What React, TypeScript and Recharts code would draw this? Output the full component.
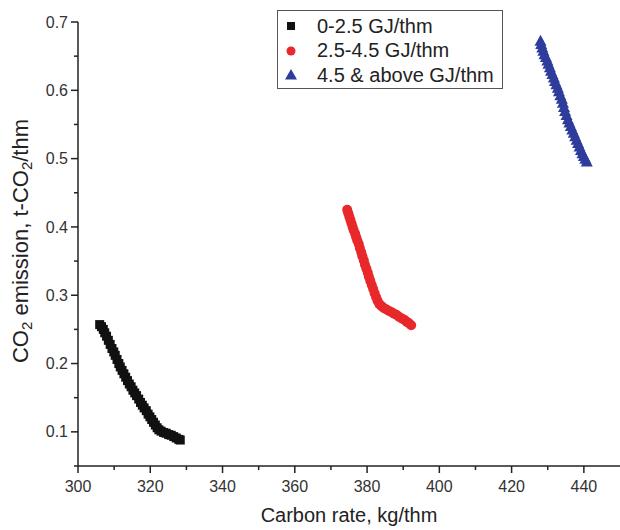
import React from "react";
import { ScatterChart, Scatter, XAxis, YAxis, Legend } from "recharts";

// carbon rate (kg/thm), CO2 emission (t-CO2/thm)
const lowEnergy: [number, number][] = [
  [306.0, 0.257], [306.5, 0.254], [307.0, 0.25], [307.4, 0.245], [307.9, 0.24],
  [308.4, 0.234], [308.9, 0.228], [309.4, 0.222], [309.9, 0.217], [310.3, 0.212],
  [310.8, 0.206], [311.3, 0.2], [311.7, 0.195], [312.2, 0.19], [312.7, 0.185],
  [313.2, 0.18], [313.7, 0.175], [314.2, 0.17], [314.7, 0.166], [315.2, 0.161],
  [315.7, 0.157], [316.2, 0.153], [316.8, 0.148], [317.3, 0.143], [317.8, 0.139],
  [318.3, 0.135], [318.9, 0.131], [319.4, 0.126], [319.9, 0.122], [320.4, 0.118],
  [320.9, 0.114], [321.4, 0.11], [321.9, 0.106], [322.4, 0.103], [323.0, 0.101],
  [323.7, 0.099], [324.4, 0.098], [325.1, 0.096], [325.8, 0.095], [326.5, 0.093],
  [327.2, 0.091], [327.9, 0.089], [328.3, 0.088],
];

const midEnergy: [number, number][] = [
  [374.5, 0.425], [374.8, 0.42], [375.1, 0.415], [375.4, 0.41], [375.7, 0.405],
  [376.0, 0.4], [376.3, 0.395], [376.7, 0.39], [377.0, 0.385], [377.3, 0.38],
  [377.7, 0.375], [378.0, 0.369], [378.4, 0.363], [378.7, 0.357], [379.1, 0.351],
  [379.4, 0.345], [379.8, 0.339], [380.2, 0.333], [380.5, 0.327], [380.9, 0.321],
  [381.3, 0.315], [381.7, 0.309], [382.1, 0.303], [382.5, 0.297], [382.9, 0.292],
  [383.4, 0.287], [384.0, 0.284], [384.7, 0.281], [385.4, 0.279], [386.1, 0.277],
  [386.8, 0.275], [387.5, 0.273], [388.2, 0.271], [388.9, 0.268], [389.6, 0.266],
  [390.3, 0.264], [391.0, 0.261], [391.6, 0.259], [392.2, 0.256],
];

const highEnergy: [number, number][] = [
  [428.0, 0.672], [428.2, 0.667], [428.5, 0.662], [428.8, 0.657], [429.1, 0.652],
  [429.5, 0.648], [429.9, 0.643], [430.2, 0.638], [430.6, 0.633], [430.9, 0.628],
  [431.3, 0.623], [431.7, 0.618], [432.0, 0.613], [432.4, 0.608], [432.8, 0.603],
  [433.1, 0.598], [433.5, 0.592], [433.9, 0.587], [434.2, 0.581], [434.5, 0.575],
  [434.8, 0.569], [435.2, 0.563], [435.6, 0.557], [436.0, 0.552], [436.4, 0.547],
  [436.8, 0.542], [437.2, 0.537], [437.6, 0.532], [438.0, 0.527], [438.4, 0.522],
  [438.8, 0.517], [439.2, 0.512], [439.6, 0.507], [440.0, 0.503], [440.4, 0.499],
  [440.8, 0.495],
];

const seriesNames = ["0-2.5 GJ/thm", "2.5-4.5 GJ/thm", "4.5 & above GJ/thm"];
const xTicks = [300, 310, 320, 330, 340, 350, 360, 370, 380, 390, 400, 410, 420, 430, 440];
const yTicks = [0.05, 0.1, 0.15, 0.2, 0.25, 0.3, 0.35, 0.4, 0.45, 0.5, 0.55, 0.6, 0.65, 0.7];

const FONT = "'Liberation Sans', Arial, sans-serif";
const AXIS = "#222";
const BLACK = "#111";
const RED = "#e8282b";
const BLUE = "#2e3d9c";

const toPoints = (arr: [number, number][]) => arr.map(([x, y]) => ({ x, y }));

function XTick(props: any) {
  const { x, y, payload } = props;
  const v = payload.value;
  const major = v % 20 === 0;
  return (
    <g>
      <line x1={x} x2={x} y1={y} y2={y + (major ? 7 : 4)} stroke={AXIS} strokeWidth={1.5} />
      {major && (
        <text x={x} y={y + 26} textAnchor="middle" fontSize={16} fill="#333" fontFamily={FONT}>
          {v}
        </text>
      )}
    </g>
  );
}

function YTick(props: any) {
  const { x, y, payload } = props;
  const v = payload.value;
  const major = Math.round(v * 100) % 10 === 0;
  return (
    <g>
      <line x1={x} x2={x - (major ? 7 : 4)} y1={y} y2={y} stroke={AXIS} strokeWidth={1.5} />
      {major && (
        <text x={x - 10} y={y} dy="0.35em" textAnchor="end" fontSize={16} fill="#333" fontFamily={FONT}>
          {v.toFixed(1)}
        </text>
      )}
    </g>
  );
}

const Square = (p: any) => (
  <rect x={p.cx - 4.5} y={p.cy - 4.5} width={9} height={9} fill={BLACK} />
);
const Dot = (p: any) => <circle cx={p.cx} cy={p.cy} r={5} fill={RED} />;
const Tri = (p: any) => (
  <polygon
    points={`${p.cx},${p.cy - 6.5} ${p.cx + 6},${p.cy + 4.5} ${p.cx - 6},${p.cy + 4.5}`}
    fill={BLUE}
  />
);

function LegendBox() {
  const icons = [
    <rect x={9} y={8} width={8} height={8} fill={BLACK} />,
    <circle cx={13} cy={12} r={4.5} fill={RED} />,
    <polygon points="13,6 19,16.5 7,16.5" fill={BLUE} />,
  ];
  return (
    <div
      style={{
        boxSizing: "border-box",
        width: 226,
        height: 79,
        border: "1px solid #555",
        background: "#fff",
        paddingTop: 3,
        fontFamily: FONT,
        fontSize: 20,
        color: "#222",
      }}
    >
      {seriesNames.map((name, i) => (
        <div key={name} style={{ display: "flex", alignItems: "center", height: 24.5 }}>
          <svg width={26} height={24}>
            {icons[i]}
          </svg>
          <span style={{ marginLeft: 13, whiteSpace: "nowrap" }}>{name}</span>
        </div>
      ))}
    </div>
  );
}

const XTitle = (props: any) => {
  const vb = props.viewBox || { x: 78, width: 542 };
  return (
    <text x={vb.x + vb.width / 2} y={522} textAnchor="middle" fontSize={20} fill="#222" fontFamily={FONT}>
      Carbon rate, kg/thm
    </text>
  );
};

const YTitle = () => (
  <text
    transform="translate(20,241) rotate(-90)"
    textAnchor="middle"
    dominantBaseline="central"
    fontSize={22}
    fill="#222"
    fontFamily={FONT}
  >
    CO
    <tspan dy={6} fontSize={15}>2</tspan>
    <tspan dy={-6}> emission, t-CO</tspan>
    <tspan dy={6} fontSize={15}>2</tspan>
    <tspan dy={-6}>/thm</tspan>
  </text>
);

export default function App() {
  return (
    <div style={{ position: "absolute", left: 0, top: 0, width: 620, height: 530, background: "#fff" }}>
      <ScatterChart width={620} height={530} margin={{ top: 22, right: 0, bottom: 0, left: 18 }}>
        <XAxis
          type="number"
          dataKey="x"
          domain={[300, 450]}
          ticks={xTicks}
          interval={0}
          height={64}
          tickSize={0}
          tickMargin={0}
          tickLine={false}
          axisLine={{ stroke: AXIS, strokeWidth: 1.5 }}
          tick={(p: any) => <XTick {...p} />}
          label={{ content: (p: any) => <XTitle {...p} /> }}
        />
        <YAxis
          type="number"
          dataKey="y"
          domain={[0.05, 0.7]}
          ticks={yTicks}
          interval={0}
          width={60}
          tickSize={0}
          tickMargin={0}
          tickLine={false}
          axisLine={{ stroke: AXIS, strokeWidth: 1.5 }}
          tick={(p: any) => <YTick {...p} />}
          label={{ content: () => <YTitle /> }}
        />
        <Legend
          layout="horizontal"
          verticalAlign="middle"
          align="center"
          wrapperStyle={{ left: 277, top: 10, width: 226 }}
          content={() => <LegendBox />}
        />
        <Scatter name={seriesNames[0]} data={toPoints(lowEnergy)} shape={Square} isAnimationActive={false} />
        <Scatter name={seriesNames[1]} data={toPoints(midEnergy)} shape={Dot} isAnimationActive={false} />
        <Scatter name={seriesNames[2]} data={toPoints(highEnergy)} shape={Tri} isAnimationActive={false} />
      </ScatterChart>
    </div>
  );
}
